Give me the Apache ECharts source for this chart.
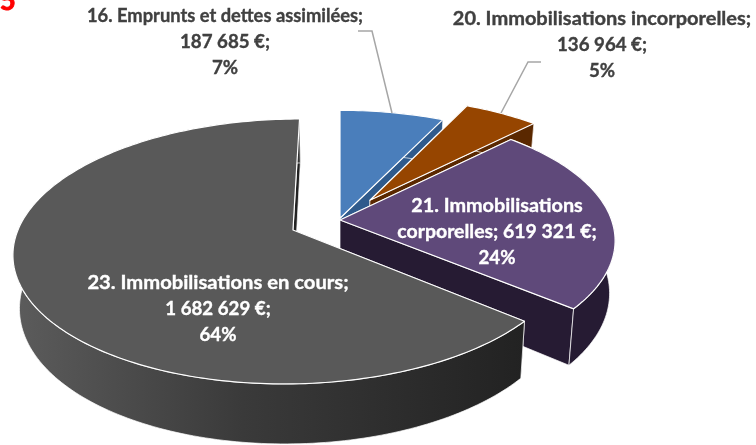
<!DOCTYPE html>
<html>
<head><meta charset="utf-8">
<script src="https://cdn.jsdelivr.net/npm/echarts@6/dist/echarts.min.js"></script>
</head>
<body style="margin:0;background:#fff">
<div id="main" style="width:756px;height:445px"></div>
<script>
// data, clockwise from 12 o'clock
var names = ['16. Emprunts et dettes assimilées', '20. Immobilisations incorporelles', '21. Immobilisations corporelles', '23. Immobilisations en cours'];
var values = [187685, 136964, 619321, 1682629];
var percents = ['7%', '5%', '24%', '64%'];

// look of each slice
var topColors = ['#4a7ebb', '#964500', '#5f497a', '#595959'];
var wallColors = ['#2f5a8c', '#5a2800', '#261b33', null];
var labelColors = ['#404040', '#404040', '#fff', '#fff'];
// label lines are split by hand like the original
var labelLines = [
  [names[0] + ';', '{v};', '{p}'],
  [names[1] + ';', '{v};', '{p}'],
  ['21. Immobilisations', 'corporelles; {v};', '{p}'],
  [names[3] + ';', '{v};', '{p}']
];
var labelCenters = [[225, 42], [602, 45], [497, 232], [218, 309]];
// Lato runs narrower than the original font on these words
var lineStretch = [
  [0.98, 1, 1],
  [1.07, 1, 1],
  [1.06, 1.04, 1],
  [1.08, 1, 1]
];
// how far each slice is pulled out, in units of the pie radius
var sliceOffsets = [[0, -0.092], [0.113, -0.24], [0, -0.0785], [-0.171, 0]];

// leader lines for the two outside labels
var leaders = [
  [[392, 113], [372, 31], [358, 31]],
  [[501, 113], [528, 62], [541, 62]]
];

// perspective of the tilted pie
var cx = 340, cy = 230, R = 275, flat = 129, persp = 0.162;

var total = values.reduce(function (a, b) { return a + b; }, 0);

function money(n) {
  return String(n).replace(/\B(?=(\d{3})+$)/g, ' ') + ' €';
}

// u,v on pie plane, z=0 top face, z=1 bottom face
function project(u, v, z) {
  var p = 1 / (1 - persp * v);
  var x = cx + R * u * p;
  var y = cy + flat * v * p;
  if (z) {
    x = cx + (x - cx) * 0.98;
    y = y + 52 + 8 * v;
  }
  return [x, y];
}

function arcPoints(off, a0, a1, z) {
  var pts = [];
  var n = Math.max(4, Math.ceil((a1 - a0) / 0.02));
  for (var i = 0; i <= n; i++) {
    var t = a0 + (a1 - a0) * i / n;
    pts.push(project(off[0] + Math.sin(t), off[1] - Math.cos(t), z));
  }
  return pts;
}

function poly(points, fill, borderOpacity, width) {
  return {
    type: 'polygon',
    shape: { points: points },
    style: { fill: fill, stroke: 'rgba(255,255,255,' + borderOpacity + ')', lineWidth: width, lineJoin: 'round' }
  };
}

function renderSlice(params, api) {
  var i = params.dataIndex;
  var a0 = api.value(1) / total * Math.PI * 2;
  var a1 = api.value(2) / total * Math.PI * 2;
  var off = sliceOffsets[i];
  var apexTop = project(off[0], off[1], 0);
  var apexBot = project(off[0], off[1], 1);
  var arcTop = arcPoints(off, a0, a1, 0);
  var arcBot = arcPoints(off, a0, a1, 1);
  var wall = wallColors[i] || new echarts.graphic.LinearGradient(0, 0, 1, 0, [
    { offset: 0, color: '#5c5c5c' },
    { offset: 0.45, color: '#3a3a3a' },
    { offset: 1, color: '#222222' }
  ]);
  var flatWall = wallColors[i] || '#222222';
  var kids = [];
  // radial walls first, then the outer wall, top face last
  kids.push(poly([apexTop, arcTop[0], arcBot[0], apexBot], flatWall, 0.7, 1));
  kids.push(poly([apexTop, arcTop[arcTop.length - 1], arcBot[arcBot.length - 1], apexBot], flatWall, 0.7, 1));
  kids.push(poly(arcTop.concat(arcBot.slice().reverse()), wall, 0.7, 1));
  kids.push(poly([apexTop].concat(arcTop), topColors[i], 1, 1.2));
  return { type: 'group', children: kids };
}

var starts = [], ends = [], run = 0;
for (var i = 0; i < values.length; i++) {
  starts.push(run);
  run += values[i];
  ends.push(run);
}

var sliceData = values.map(function (v, i) { return [v, starts[i], ends[i]]; });

var texts = [];
labelLines.forEach(function (lines, i) {
  lines.forEach(function (l, j) {
    texts.push({
      type: 'text',
      x: labelCenters[i][0],
      y: labelCenters[i][1] + (j - 1) * 26,
      scaleX: lineStretch[i][j],
      style: {
        text: l.replace('{v}', money(values[i])).replace('{p}', percents[i]),
        fill: labelColors[i],
        stroke: labelColors[i],
        lineWidth: 0.35,
        font: 'bold 18.7px Lato',
        align: 'center',
        verticalAlign: 'middle'
      },
      z: 100
    });
  });
});

leaders.forEach(function (pts) {
  texts.push({
    type: 'polyline',
    shape: { points: pts },
    style: { stroke: '#a6a6a6', lineWidth: 1.5, fill: null },
    z: 90
  });
});

// clipped page number at the corner of the original
texts.push({
  type: 'text',
  x: 0,
  y: 15,
  style: { text: '5', fill: '#ff0000', stroke: '#ff0000', lineWidth: 1, font: 'bold 27px Lato', align: 'left', verticalAlign: 'bottom' },
  z: 100
});

var myChart = echarts.init(document.getElementById('main'), null, { renderer: 'canvas' });
myChart.setOption({
  animation: false,
  backgroundColor: '#fff',
  series: [{
    type: 'custom',
    coordinateSystem: 'none',
    silent: true,
    renderItem: renderSlice,
    data: sliceData
  }],
  graphic: { elements: texts }
});
</script>
</body>
</html>
